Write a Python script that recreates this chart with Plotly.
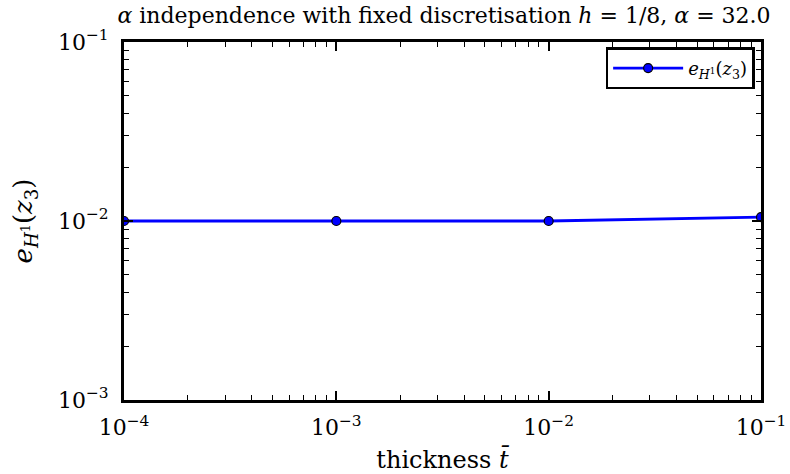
import plotly.graph_objects as go

thickness = [1e-4, 1e-3, 1e-2, 1e-1]
error_h1 = [0.0100, 0.0100, 0.0100, 0.0105]

x_tickvals = [1e-4, 1e-3, 1e-2, 1e-1]
x_ticktext = ["10<sup>−4</sup>", "10<sup>−3</sup>", "10<sup>−2</sup>", "10<sup>−1</sup>"]
y_tickvals = [1e-3, 1e-2, 1e-1]
y_ticktext = ["10<sup>−3</sup>", "10<sup>−2</sup>", "10<sup>−1</sup>"]

x_minor = [k * d for d in (1e-4, 1e-3, 1e-2) for k in range(2, 10)]
y_minor = [k * d for d in (1e-3, 1e-2) for k in range(2, 10)]

FONT = "DejaVu Serif"

fig = go.Figure()
fig.add_trace(go.Scatter(
    x=thickness, y=error_h1, mode="lines+markers",
    name="<i>e</i><sub><i>H</i><sup>1</sup></sub>(<i>z</i><sub>3</sub>)",
    line=dict(color="#0000ff", width=2.8),
    marker=dict(color="#0000ff", size=9, line=dict(color="black", width=1.2)),
))

def axis_common(minor_vals):
    return dict(
        type="log", showgrid=False, zeroline=False, automargin=False,
        showline=True, linecolor="black", linewidth=3, mirror="ticks",
        ticks="inside", ticklen=9, tickwidth=1.5, tickcolor="black",
        minor=dict(ticks="inside", ticklen=5, tickwidth=1, tickcolor="black",
                   showgrid=False, tickvals=minor_vals),
        tickfont=dict(family=FONT, size=22, color="black"),
    )

fig.update_layout(
    width=790, height=474,
    margin=dict(l=124, r=29, t=42, b=74),
    paper_bgcolor="white", plot_bgcolor="white",
    font=dict(family=FONT, color="black"),
    title=dict(
        text="<i>α</i> independence with fixed discretisation <i>h</i> = 1/8, <i>α</i> = 32.0",
        x=0.562, xanchor="center", y=0.985, yanchor="top",
        font=dict(family=FONT, size=22, color="black"),
    ),
    xaxis=dict(
        **axis_common(x_minor), range=[-4, -1],
        tickvals=x_tickvals, ticktext=x_ticktext, ticklabelstandoff=6,
        title=dict(text="thickness <i>t̄</i>", font=dict(family=FONT, size=24), standoff=14),
    ),
    yaxis=dict(
        **axis_common(y_minor), range=[-3, -1],
        tickvals=y_tickvals, ticktext=y_ticktext, ticklabelstandoff=8,
        title=dict(text="<i>e</i><sub><i>H</i><sup>1</sup></sub>(<i>z</i><sub>3</sub>)",
                   font=dict(family=FONT, size=26), standoff=18),
    ),
    showlegend=True,
    legend=dict(
        x=0.99, y=0.985, xanchor="right", yanchor="top",
        bgcolor="white", bordercolor="black", borderwidth=2.5,
        font=dict(family=FONT, size=18, color="black"),
        itemwidth=70,
    ),
)

fig.write_html("out.html")
